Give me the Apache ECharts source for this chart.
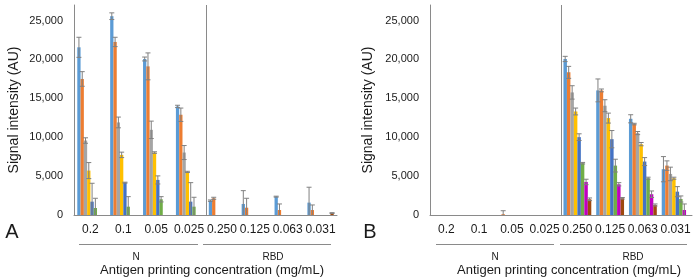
<!DOCTYPE html>
<html>
<head>
<meta charset="utf-8">
<script src="https://cdn.jsdelivr.net/npm/echarts@6/dist/echarts.min.js"></script>
<style>
  html, body { margin: 0; padding: 0; background: #fff; }
  #chart { width: 696px; height: 279px; }
</style>
</head>
<body>
<div id="chart"></div>
<script>
var categories = ['0.2', '0.1', '0.05', '0.025', '0.250', '0.125', '0.063', '0.031'];
var groupNames = ['N', 'RBD'];

// panel A: one row per series (8 series), one value per category
var meansA = [
  [21560, 25560, 20060, 13960, 1845, 1420, 2360, 1590],
  [17490, 22250, 19110, 12890, 2150, 940, 640, 640],
  [9575, 11900, 10950, 8030, 0, 0, 0, 0],
  [5710, 7730, 8030, 5540, 0, 0, 0, 0],
  [1715, 4160, 4510, 1715, 0, 0, 0, 0],
  [900, 1070, 2020, 1070, 0, 0, 0, 0],
  [0, 0, 0, 0, 0, 0, 0, 0],
  [0, 0, 0, 0, 0, 0, 0, 250]
];
var errsA = [
  [1290, 430, 250, 150, 90, 1710, 60, 1980],
  [940, 600, 1730, 860, 130, 1210, 780, 650],
  [350, 690, 1120, 900, 0, 0, 0, 0],
  [1030, 350, 100, 80, 0, 0, 0, 0],
  [2365, 60, 520, 2445, 0, 0, 0, 0],
  [1250, 1290, 340, 1210, 0, 0, 0, 0],
  [0, 0, 0, 0, 0, 0, 0, 0],
  [0, 0, 0, 0, 0, 0, 0, 50]
];

// panel B
var meansB = [
  [0, 0, 0, 0, 20060, 16020, 12370, 5890],
  [0, 0, 100, 0, 18340, 16020, 11690, 6350],
  [0, 0, 0, 0, 15760, 14050, 10530, 5280],
  [0, 0, 0, 0, 13310, 12460, 9110, 4730],
  [0, 0, 0, 0, 10010, 9750, 6870, 3000],
  [0, 0, 0, 0, 6660, 6350, 4730, 2060],
  [0, 0, 0, 0, 4250, 3950, 2670, 640],
  [0, 0, 0, 0, 2020, 2150, 1290, 0]
];
var errsB = [
  [0, 0, 0, 0, 340, 1470, 520, 1620],
  [0, 0, 450, 0, 770, 180, 100, 610],
  [0, 0, 0, 0, 860, 770, 200, 870],
  [0, 0, 0, 0, 440, 640, 210, 130],
  [0, 0, 0, 0, 430, 1110, 510, 650],
  [0, 0, 0, 0, 100, 820, 130, 390],
  [0, 0, 0, 0, 350, 210, 420, 780],
  [0, 0, 0, 0, 170, 100, 130, 0]
];

var colors = ['#5b9bd5', '#ed7d31', '#a5a5a5', '#ffc000', '#4472c4', '#70ad47', '#c000c0', '#9e480e'];
var font = '"Liberation Sans", Arial, sans-serif';
var axisGrey = '#8a8a8a';
var nSer = colors.length;

// error bars placed on the bars via the category scale
function errRender(k, gap) {
  return function (params, api) {
    var err = api.value(2);
    if (!(err > 0)) return;
    var m = api.value(1);
    var c = api.coord([api.value(0), m]);
    var band = api.size([1, 0])[0];
    var group = band * (1 - gap);
    var w = group / nSer;
    var x = c[0] - group / 2 + (k + 0.5) * w;
    var yHi = api.coord([api.value(0), m + err])[1];
    var yLo = api.coord([api.value(0), Math.max(0, m - err)])[1];
    var st = { stroke: '#808080', lineWidth: 1 };
    var kids = [
      { type: 'line', shape: { x1: x, y1: yHi, x2: x, y2: yLo }, style: st },
      { type: 'line', shape: { x1: x - 2.5, y1: yHi, x2: x + 2.5, y2: yHi }, style: st }
    ];
    if (m - err > 0) {
      kids.push({ type: 'line', shape: { x1: x - 2.5, y1: yLo, x2: x + 2.5, y2: yLo }, style: st });
    }
    return { type: 'group', children: kids };
  };
}

// vertical separator between the N and RBD groups
function dividerRender(params, api) {
  var a = api.coord([3, 0])[0], b = api.coord([4, 0])[0];
  var x = Math.round((a + b) / 2) + 0.5;
  var cs = params.coordSys;
  return {
    type: 'line',
    shape: { x1: x, y1: cs.y, x2: x, y2: cs.y + cs.height },
    style: { stroke: axisGrey, lineWidth: 1 }
  };
}

var series = [];
function addPanel(idx, means, errs, gap) {
  means.forEach(function (vals, k) {
    series.push({
      type: 'bar', xAxisIndex: idx, yAxisIndex: idx, data: vals,
      barGap: '0%', barCategoryGap: (gap * 100) + '%',
      itemStyle: { color: colors[k] }, silent: true
    });
  });
  means.forEach(function (vals, k) {
    series.push({
      type: 'custom', xAxisIndex: idx, yAxisIndex: idx, z: 3, silent: true,
      renderItem: errRender(k, gap),
      encode: { x: 0, y: 1 },
      data: vals.map(function (v, i) { return [i, v, errs[k][i]]; })
    });
  });
  series.push({
    type: 'custom', xAxisIndex: idx, yAxisIndex: idx, z: 4, silent: true,
    renderItem: dividerRender, encode: { x: 0, y: 1 }, data: [[3, 0]]
  });
}
addPanel(0, meansA, errsA, 0.2);
addPanel(1, meansB, errsB, 0.15);

function xAx(idx) {
  return {
    type: 'category', gridIndex: idx, data: categories,
    axisLine: { lineStyle: { color: axisGrey } },
    axisTick: { show: false },
    axisLabel: { color: '#1a1a1a', fontSize: 12, margin: 9, fontFamily: font, interval: 0 }
  };
}
function yAx(idx, gap) {
  return {
    type: 'value', gridIndex: idx, min: 0, max: 27000, interval: 5000,
    axisLine: { show: true, lineStyle: { color: axisGrey } },
    axisTick: { show: false },
    splitLine: { show: false },
    axisLabel: {
      color: '#1a1a1a', fontSize: 11, margin: 11, fontFamily: font, showMaxLabel: false,
      formatter: function (v) { return v > 25000 ? '' : v.toLocaleString('en-US'); }
    },
    name: 'Signal intensity (AU)', nameLocation: 'middle', nameGap: gap,
    nameTextStyle: { color: '#1a1a1a', fontSize: 14, fontFamily: font }
  };
}

function txt(x, y, s, size) {
  return { type: 'text', x: x, y: y, style: { text: s, fill: '#1a1a1a', font: size + 'px ' + font, align: 'center', verticalAlign: 'middle' } };
}
function hline(x1, x2, y) {
  return { type: 'line', shape: { x1: x1, y1: y, x2: x2, y2: y }, style: { stroke: axisGrey, lineWidth: 1 } };
}

var option = {
  animation: false,
  backgroundColor: '#fff',
  grid: [
    { left: 74, right: 359, top: 5, bottom: 64, outerBoundsMode: 'none' },
    { left: 430, right: 4, top: 5, bottom: 64, outerBoundsMode: 'none' }
  ],
  xAxis: [xAx(0), xAx(1)],
  yAxis: [yAx(0, 53), yAx(1, 55)],
  series: series,
  graphic: [
    txt(12, 232, 'A', 20), txt(370, 232, 'B', 20),
    hline(79, 198, 244.5), hline(203, 331, 244.5),
    hline(436, 554, 244.5), hline(560, 687, 244.5),
    txt(136, 257, groupNames[0], 10), txt(273, 257, groupNames[1], 10),
    txt(495, 257, groupNames[0], 10), txt(633, 257, groupNames[1], 10),
    txt(212, 270, 'Antigen printing concentration (mg/mL)', 13),
    txt(569, 270, 'Antigen printing concentration (mg/mL)', 13)
  ]
};

var chart = echarts.init(document.getElementById('chart'));
chart.setOption(option);
</script>
</body>
</html>
